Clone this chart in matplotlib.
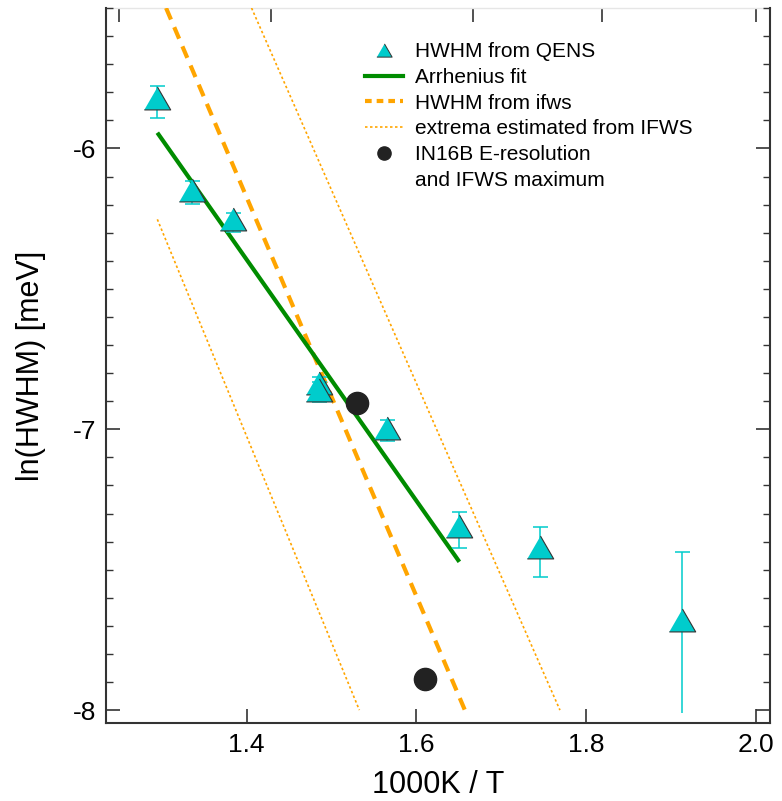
import matplotlib.pyplot as plt
from matplotlib.lines import Line2D
from matplotlib.ticker import MultipleLocator, NullLocator

plt.rcParams['font.family'] = ['Liberation Sans', 'DejaVu Sans']
plt.rcParams['axes.unicode_minus'] = False

# ln(HWHM) from QENS vs 1000K/T, with asymmetric errors
x_qens = [1.294, 1.336, 1.3835, 1.4855, 1.4855, 1.565, 1.650, 1.7455, 1.9125]
y_qens = [-5.820, -6.148, -6.252, -6.837, -6.860, -6.994, -7.344, -7.418, -7.678]
err_lo = [0.071, 0.050, 0.044, 0.030, 0.042, 0.048, 0.079, 0.109, 0.332]
err_up = [0.043, 0.033, 0.023, 0.023, 0.030, 0.027, 0.048, 0.071, 0.240]

# Arrhenius fit
fit_x = [1.2947, 1.6505]
fit_y = [-5.944, -7.472]
# HWHM from ifws
ifws_x = [1.305, 1.657]
ifws_y = [-5.50, -8.0]
# extrema estimated from IFWS
ext_lo_x = [1.2947, 1.5327]
ext_lo_y = [-6.2525, -8.0]
ext_hi_x = [1.4057, 1.769]
ext_hi_y = [-5.50, -8.0]
# IN16B E-resolution and IFWS maximum
res_x = [1.5296, 1.610]
res_y = [-6.908, -7.890]

# temperature ticks on the top axis (K)
top_temps = [800, 700, 600, 550, 500]

cyan = '#00CCCC'
green = '#008C00'
orange = '#FFA500'
dark = '#333333'
tri = [(-1, -0.866), (1, -0.866), (0, 0.866)]

fig = plt.figure(figsize=(7.82, 8.01), dpi=100)
ax = fig.add_axes([0.1352, 0.0970, 0.8495, 0.893])

ax.plot(ext_lo_x, ext_lo_y, color=orange, lw=1.2, ls=(0, (1.5, 1.5)), zorder=2)
ax.plot(ext_hi_x, ext_hi_y, color=orange, lw=1.2, ls=(0, (1.5, 1.5)), zorder=2)
ax.plot(ifws_x, ifws_y, color=orange, lw=3, ls=(0, (3.0, 2.0)), dash_capstyle='butt', zorder=2)
ax.plot(fit_x, fit_y, color=green, lw=3, solid_capstyle='butt', zorder=3)

# error bars (last point: lower bar without cap)
ax.errorbar(x_qens[:-1], y_qens[:-1], yerr=[err_lo[:-1], err_up[:-1]], fmt='none',
            ecolor=cyan, elinewidth=1.1, capsize=5.4, capthick=1.1, zorder=4)
ax.vlines(x_qens[-1], y_qens[-1] - err_lo[-1], y_qens[-1] + err_up[-1], color=cyan, lw=1.1, zorder=4)
ax.plot(x_qens[-1], y_qens[-1] + err_up[-1], marker='_', ms=10.8, mew=1.1, color=cyan, zorder=4)

ax.plot(x_qens, y_qens, ls='none', marker=tri, ms=19, mfc=cyan, mec=dark, mew=0.8, zorder=5)
ax.plot(res_x, res_y, ls='none', marker='o', ms=16, mfc='#222222', mec='#222222', zorder=5)

ax.set_xlim(1.2339, 2.0165)
ax.set_ylim(-8.047, -5.5)
ax.xaxis.set_major_locator(MultipleLocator(0.2))
ax.yaxis.set_major_locator(MultipleLocator(1))
ax.yaxis.set_minor_locator(MultipleLocator(0.1))
ax.xaxis.set_major_formatter(plt.FormatStrFormatter('%.1f'))
ax.tick_params(which='both', direction='in', color=dark, right=True, top=False)
ax.tick_params(which='major', length=10, width=1.2, labelsize=19, pad=7)
ax.tick_params(which='minor', length=5, width=1.0)

for side in ['left', 'right', 'bottom']:
    ax.spines[side].set_linewidth(1.5)
    ax.spines[side].set_color(dark)
ax.spines['top'].set_visible(False)

secax = ax.secondary_xaxis('top', functions=(lambda x: 1000 / x, lambda t: 1000 / t))
secax.set_xticks(top_temps)
secax.xaxis.set_minor_locator(NullLocator())
secax.tick_params(which='both', direction='in', length=10, width=1.2, color=dark, labeltop=False)
secax.tick_params(which='minor', length=0)
secax.spines['top'].set_color('#e6e6e6')
secax.spines['top'].set_linewidth(1)

ax.set_xlabel('1000K / T', fontsize=22, labelpad=9)
ax.set_ylabel('ln(HWHM) [meV]', fontsize=22, labelpad=19)

handles = [
    Line2D([], [], ls='none', marker=tri, ms=11, mfc=cyan, mec=dark, mew=0.7),
    Line2D([], [], color=green, lw=3),
    Line2D([], [], color=orange, lw=3, ls=(0, (1.6, 1.2))),
    Line2D([], [], color=orange, lw=1.2, ls=(0, (1.5, 1.5))),
    Line2D([], [], ls='none', marker='o', ms=9.5, mfc='#222222', mec='#222222'),
    Line2D([], [], ls='none'),
]
labels = ['HWHM from QENS', 'Arrhenius fit', 'HWHM from ifws',
          'extrema estimated from IFWS', 'IN16B E-resolution', 'and IFWS maximum']
ax.legend(handles, labels, loc='upper left', bbox_to_anchor=(0.3903, 0.952),
          frameon=False, fontsize=15, borderpad=0, borderaxespad=0,
          handlelength=1.83, handletextpad=0.58, labelspacing=0.32)

plt.savefig('out.png', dpi=100)
